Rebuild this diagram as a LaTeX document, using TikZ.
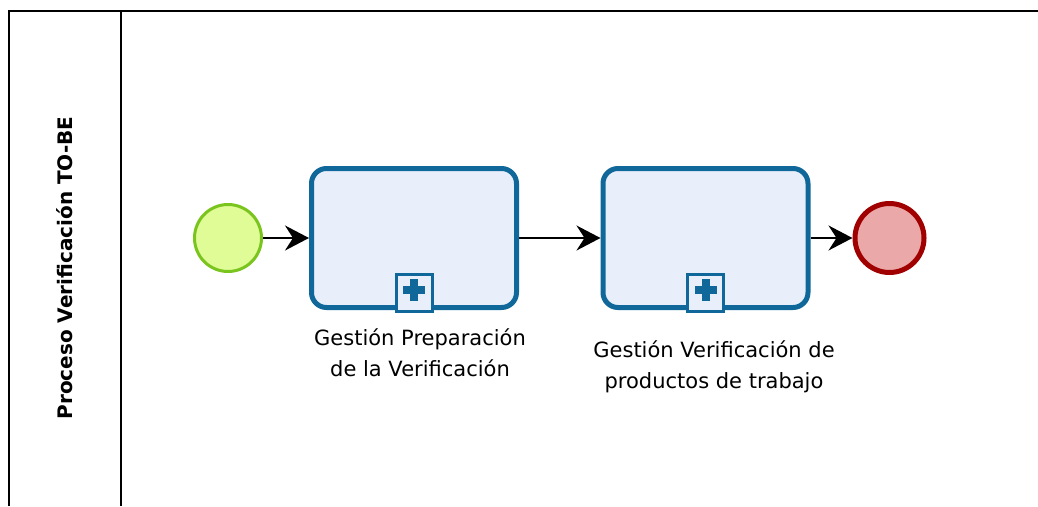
\documentclass[tikz,border=0pt]{standalone}
\usepackage{fontspec}
\setmainfont{DejaVu Sans}
\usetikzlibrary{arrows.meta}
\definecolor{taskline}{HTML}{10689A}
\definecolor{taskfill}{HTML}{E9EEFB}
\definecolor{startline}{HTML}{7AC41E}
\definecolor{startfill}{HTML}{E0FC96}
\definecolor{endline}{HTML}{A00000}
\definecolor{endfill}{HTML}{EBA8A8}
\tikzset{
  subproc/.style={draw=taskline, fill=taskfill, line width=5pt, rounded corners=15pt,
    minimum width=205pt, minimum height=139pt, inner sep=0pt},
  startev/.style={circle, draw=startline, fill=startfill, line width=3pt, minimum size=67pt, inner sep=0pt},
  endev/.style={circle, draw=endline, fill=endfill, line width=5pt, minimum size=69pt, inner sep=0pt},
  flow/.style={line width=2pt, -{Stealth[length=24pt, width=25pt, inset=8pt]}},
  tasklabel/.style={align=center, font=\fontsize{21}{31}\selectfont, inner sep=0pt},
  marker/.style={draw=taskline, fill=taskfill, line width=3pt, minimum width=36pt, minimum height=37pt, inner sep=0pt},
}
\begin{document}
\begin{tikzpicture}[x=1pt, y=-1pt]
  \useasboundingbox (0,0) rectangle (1038,506);
  % pool and lane
  \draw[line width=2pt] (1038,11) -- (9,11) -- (9,506);
  \draw[line width=2pt] (121,11) -- (121,506);
  \node[rotate=90, font=\bfseries\fontsize{20}{22}\selectfont] (pool) at (65,268) {Proceso Verificación TO-BE};

  % events and sub-processes
  \node[startev] (start) at (228,238) {};
  \node[subproc] (t1) at (414,238) {};
  \node[subproc] (t2) at (705.5,238) {};
  \node[endev] (end) at (889.5,238) {};

  % collapsed sub-process markers
  \foreach \t in {t1,t2}{
    \node[marker, anchor=south] (\t m) at ([yshift=-2.5pt]\t.south) {};
    \fill[taskline] ([yshift=3pt]\t m.center) ++(-11,-4) rectangle ++(22,8);
    \fill[taskline] ([yshift=3pt]\t m.center) ++(-4,-11) rectangle ++(8,22);
  }

  % labels
  \node[tasklabel] (l1) at (420,353) {Gestión Preparación\\de la Verificación};
  \node[tasklabel] (l2) at (714,367) {Gestión Verificación de\\productos de trabajo};

  % sequence flows
  \draw[flow] (start) -- (t1);
  \draw[flow] (t1) -- (t2);
  \draw[flow] (t2) -- (end);
\end{tikzpicture}
\end{document}
